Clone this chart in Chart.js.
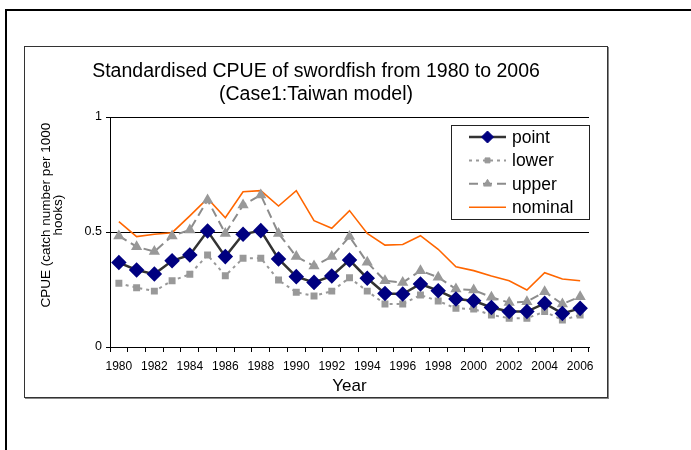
<!DOCTYPE html>
<html>
<head>
<meta charset="utf-8">
<script src="https://cdn.jsdelivr.net/npm/chart.js@4.4.1/dist/chart.umd.min.js"></script>
<style>
  html, body { margin: 0; padding: 0; background: #fff; width: 691px; height: 450px; overflow: hidden; }
  #frame { position: absolute; left: 5px; top: 9px; width: 720px; height: 480px; border-left: 2px solid #000; border-top: 2px solid #000; }
  #box { position: absolute; left: 24px; top: 46px; width: 582px; height: 350px; border: 1px solid #333; box-shadow: 1px 1px 0 #888; background: #fff; }
  canvas { display: block; }
</style>
</head>
<body>
<div id="frame"></div>
<div id="box"><canvas id="cpue" width="582" height="350"></canvas></div>
<script>
/* Standardised CPUE of swordfish, Case1 Taiwan model */
const years = ['1980','1981','1982','1983','1984','1985','1986','1987','1988','1989',
  '1990','1991','1992','1993','1994','1995','1996','1997','1998','1999',
  '2000','2001','2002','2003','2004','2005','2006'];

const point   = [0.367,0.335,0.317,0.375,0.400,0.504,0.393,0.490,0.506,0.383,
  0.306,0.281,0.309,0.378,0.299,0.233,0.230,0.274,0.245,0.209,
  0.201,0.172,0.154,0.154,0.190,0.146,0.168];
const lower   = [0.277,0.258,0.243,0.288,0.316,0.400,0.310,0.386,0.386,0.291,
  0.238,0.222,0.243,0.301,0.243,0.187,0.187,0.226,0.200,0.168,
  0.165,0.139,0.125,0.125,0.154,0.117,0.139];
const upper   = [0.483,0.436,0.415,0.483,0.509,0.639,0.494,0.617,0.661,0.494,
  0.393,0.352,0.393,0.480,0.368,0.288,0.280,0.332,0.303,0.252,
  0.248,0.216,0.193,0.197,0.240,0.187,0.219];
const nominal = [0.545,0.480,0.490,0.497,0.570,0.646,0.562,0.675,0.680,0.613,
  0.680,0.549,0.516,0.593,0.494,0.443,0.446,0.484,0.425,0.349,
  0.332,0.309,0.288,0.248,0.323,0.296,0.288];

const yTicks = [0, 0.5, 1];
const FONT = '"Liberation Sans", Arial, sans-serif';
// leading spaces nudge the rotated axis title up a little, as in the original
const Y_PAD = '         ';

// legend drawn inside the plot, top-right, like the original
const boxLegend = {
  id: 'boxLegend',
  afterDatasetsDraw(chart) {
    const { ctx, chartArea } = chart;
    const w = 138, h = 94;
    const x0 = Math.round(chartArea.right - w), y0 = Math.round(chartArea.top + 8);
    ctx.save();
    ctx.fillStyle = '#fff';
    ctx.fillRect(x0, y0, w, h);
    ctx.strokeStyle = '#222'; ctx.lineWidth = 1;
    ctx.strokeRect(x0 + 0.5, y0 + 0.5, w, h);
    chart.data.datasets.forEach((ds, i) => {
      const y = y0 + 12 + i * 23.4;
      const lx = x0 + 18, rx = x0 + 55;
      ctx.strokeStyle = ds.borderColor;
      ctx.lineWidth = ds.borderWidth;
      ctx.setLineDash(ds.borderDash || []);
      ctx.beginPath(); ctx.moveTo(lx, y); ctx.lineTo(rx, y); ctx.stroke();
      ctx.setLineDash([]);
      if (ds.pointRadius) {
        ctx.fillStyle = ds.pointBackgroundColor;
        ctx.strokeStyle = ds.pointBorderColor;
        ctx.lineWidth = 1;
        Chart.helpers.drawPoint(ctx, { pointStyle: ds.pointStyle, radius: ds.pointRadius, borderWidth: 1, rotation: 0 }, (lx + rx) / 2, y);
      }
      ctx.fillStyle = '#000';
      ctx.font = '17.5px ' + FONT;
      ctx.textBaseline = 'middle';
      ctx.fillText(ds.label, x0 + 61, y + 1);
    });
    ctx.restore();
  }
};

new Chart(document.getElementById('cpue'), {
  type: 'line',
  data: {
    labels: years,
    datasets: [
      { label: 'point', data: point, borderColor: '#333333', borderWidth: 2.5,
        pointStyle: 'rectRot', pointRadius: 6, pointBackgroundColor: '#000080', pointBorderColor: '#000080' },
      { label: 'lower', data: lower, borderColor: '#999999', borderWidth: 2, borderDash: [3, 4],
        pointStyle: 'rect', pointRadius: 3.5, pointBackgroundColor: '#999999', pointBorderColor: '#999999' },
      { label: 'upper', data: upper, borderColor: '#8c8c8c', borderWidth: 2, borderDash: [9, 5],
        pointStyle: 'triangle', pointRadius: 4.5, pointBackgroundColor: '#999999', pointBorderColor: '#999999' },
      { label: 'nominal', data: nominal, borderColor: '#ff6600', borderWidth: 1.6, pointRadius: 0 }
    ]
  },
  options: {
    responsive: false,
    animation: false,
    layout: { padding: { left: 18, right: 18, top: 0, bottom: 0 } },
    plugins: {
      legend: { display: false },
      tooltip: { enabled: false },
      title: {
        display: true,
        text: ['Standardised CPUE of swordfish from 1980 to 2006', '(Case1:Taiwan model)'],
        color: '#000',
        font: { family: FONT, size: 19.5, weight: 'normal', lineHeight: 1.18 },
        padding: { top: 13, bottom: 11 }
      }
    },
    scales: {
      x: {
        offset: true,
        grid: { offset: true, drawOnChartArea: false, drawTicks: true, tickLength: 5, color: '#000' },
        border: { color: '#000', width: 1 },
        ticks: {
          autoSkip: false, maxRotation: 0, padding: 7, color: '#000',
          font: { family: FONT, size: 12 },
          callback: (v, i) => (i % 2 === 0 ? years[i] : '')
        },
        title: { display: true, text: 'Year', color: '#000', font: { family: FONT, size: 17 }, padding: { top: -2, bottom: 0 } },
        afterFit: s => { s.height = 50; }
      },
      y: {
        min: 0, max: 1,
        afterBuildTicks: s => { s.ticks = yTicks.map(v => ({ value: v })); },
        grid: { color: '#000', lineWidth: 1, tickLength: 4 },
        border: { color: '#000', width: 1 },
        ticks: { padding: 4, color: '#000', font: { family: FONT, size: 12.5 }, callback: v => String(v) },
        title: {
          display: true,
          text: [Y_PAD + 'CPUE (catch number per 1000', Y_PAD + 'hooks)'],
          color: '#000',
          font: { family: FONT, size: 13.5, lineHeight: 0.9 },
          padding: { top: -3, bottom: 0 }
        },
        afterFit: s => { s.width = 67; }
      }
    }
  },
  plugins: [boxLegend]
});
</script>
</body>
</html>
